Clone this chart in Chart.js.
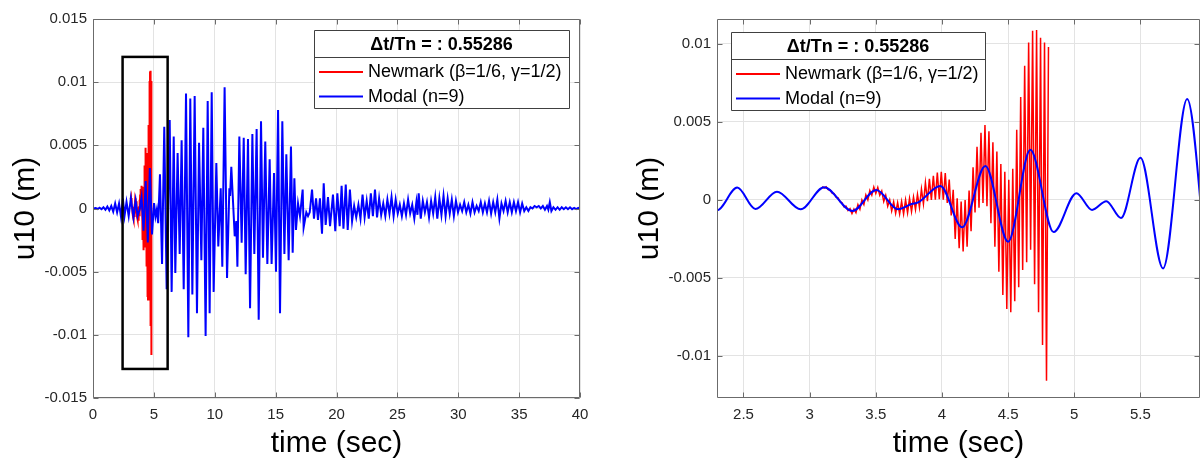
<!DOCTYPE html>
<html>
<head>
<meta charset="utf-8">
<title>u10 - Newmark vs Modal</title>
<script src="https://cdn.jsdelivr.net/npm/chart.js@4.4.1/dist/chart.umd.min.js"></script>
<style>
    html, body { margin: 0; padding: 0; background: #fff; }
    #wrap { position: relative; width: 1201px; height: 460px; overflow: hidden; }
    canvas { position: absolute; top: 0; }
    #fullChart { left: 0; }
    #zoomChart { left: 600px; }
</style>
</head>
<body>
<div id="wrap">
    <canvas id="fullChart" width="600" height="460"></canvas>
    <canvas id="zoomChart" width="601" height="460"></canvas>
</div>
<script>
// u10 (m) vs time (sec)
const legendTitle = 'Δt/Tn = : 0.55286'
const seriesLabels = ['Newmark (β=1/6, γ=1/2)', 'Modal (n=9)']

// Newmark (inestable), un valor por paso de tiempo
const newmarkTime = [
    3.095, 3.11, 3.125, 3.14, 3.155, 3.17, 3.185, 3.2, 3.215, 3.23,
    3.245, 3.26, 3.275, 3.29, 3.305, 3.32, 3.335, 3.35, 3.365, 3.38,
    3.395, 3.41, 3.425, 3.44, 3.455, 3.47, 3.485, 3.5, 3.515, 3.53,
    3.545, 3.56, 3.575, 3.59, 3.605, 3.62, 3.635, 3.65, 3.665, 3.68,
    3.695, 3.71, 3.725, 3.74, 3.755, 3.77, 3.785, 3.8, 3.815, 3.83,
    3.845, 3.86, 3.875, 3.89, 3.905, 3.92, 3.935, 3.95, 3.965, 3.98,
    3.995, 4.01, 4.025, 4.04, 4.055, 4.07, 4.085, 4.1, 4.115, 4.13,
    4.145, 4.16, 4.175, 4.19, 4.205, 4.22, 4.235, 4.25, 4.265, 4.28,
    4.295, 4.31, 4.325, 4.34, 4.355, 4.37, 4.385, 4.4, 4.415, 4.43,
    4.445, 4.46, 4.475, 4.49, 4.505, 4.52, 4.535, 4.55, 4.565, 4.58,
    4.595, 4.61, 4.625, 4.64, 4.655, 4.67, 4.685, 4.7, 4.715, 4.73,
    4.745, 4.76, 4.775, 4.79, 4.805
]
const newmarkDisp = [
    0.00085, 0.00076, 0.00084, 0.00066, 0.00064, 0.00044, 0.0004, 0.00018, 0.00013, -0.00012,
    -0.00018, -0.00044, -0.0004, -0.00068, -0.00056, -0.00088, -0.00058, -0.00082, -0.0003, -0.0006,
    0, -0.0003, 0.00032, 0, 0.0006, 0.0003, 0.00082, 0.00042, 0.0008, 0.0003,
    0.00058, -0.0001, 0.0003, -0.0004, 0, -0.0007, -0.00012, -0.00086, -0.00018, -0.0009,
    -0.0001, -0.0009, 0, -0.00082, 0.0001, -0.00074, 0.00018, -0.00062, 0.00036, -0.00048,
    0.0007, -0.00025, 0.0011, -0.00008, 0.00135, 0, 0.00155, 0.00002, 0.00175, 0.00004,
    0.0018, 0.00002, 0.00172, -0.0002, 0.0013, -0.001, 0.00065, -0.0025, 0.0001, -0.0031,
    -0.0001, -0.0033, 0, -0.003, 0.0006, -0.002, 0.0021, -0.0008, 0.0034, -0.0005,
    0.0043, -0.0002, 0.0048, -0.0004, 0.0044, -0.0015, 0.0037, -0.003, 0.0031, -0.0046,
    0.0023, -0.0061, 0.0018, -0.007, 0.0013, -0.0072, 0.002, -0.0065, 0.0045, -0.0056,
    0.0066, -0.0045, 0.0086, -0.004, 0.0101, -0.0032, 0.01085, -0.0054, 0.0109, -0.0072,
    0.0104, -0.0093, 0.0101, -0.0116, 0.0098
]

// Modal (n=9): picos y valles
const modalTime = [
    0, 0.22, 0.38, 0.54, 0.7, 0.86, 1.02, 1.18, 1.34, 1.5, 1.66, 1.82, 1.98, 2.14,
    2.3, 2.453, 2.59, 2.753, 2.932, 3.109, 3.323, 3.504, 3.668, 3.77, 3.82, 3.988,
    4.152, 4.328, 4.5, 4.668, 4.844, 5.016, 5.134, 5.242, 5.353, 5.5, 5.671, 5.853,
    6.05, 6.3, 6.46, 6.63, 6.76, 6.95, 7.12, 7.28, 7.45, 7.64, 7.83, 7.99,
    8.16, 8.35, 8.54, 8.71, 8.9, 9.06, 9.25, 9.42, 9.58, 9.75, 9.91, 10.13,
    10.29, 10.49, 10.62, 10.81, 11.01, 11.2, 11.26, 11.36, 11.64, 11.77, 11.86, 12.02,
    12.21, 12.38, 12.54, 12.73, 12.9, 13.09, 13.25, 13.44, 13.61, 13.8, 13.96, 14.15,
    14.32, 14.51, 14.67, 14.87, 15.03, 15.2, 15.36, 15.55, 15.72, 15.88, 16.07, 16.26,
    16.4, 16.54, 16.67, 16.84, 17, 17.22, 17.3, 17.52, 17.66, 17.8, 17.99, 18.15,
    18.32, 18.48, 18.64, 18.81, 18.95, 19.11, 19.3, 19.47, 19.71, 19.9, 20.07, 20.26,
    20.42, 20.57, 20.76, 20.92, 21.1, 21.28, 21.45, 21.62, 21.8, 21.97, 22.14, 22.31,
    22.48, 22.65, 22.82, 22.99, 23.16, 23.33, 23.5, 23.67, 23.84, 24.01, 24.18, 24.35,
    24.52, 24.69, 24.86, 25.03, 25.2, 25.37, 25.54, 25.71, 25.88, 26.05, 26.22, 26.39,
    26.56, 26.65, 26.75, 26.92, 27.09, 27.26, 27.43, 27.6, 27.77, 27.94, 28.11, 28.28,
    28.45, 28.62, 28.79, 28.96, 29.13, 29.3, 29.47, 29.64, 29.81, 29.98, 30.15, 30.32,
    30.49, 30.66, 30.83, 31, 31.17, 31.34, 31.51, 31.68, 31.85, 32.02, 32.19, 32.36,
    32.53, 32.7, 32.87, 33.04, 33.21, 33.38, 33.55, 33.72, 33.89, 34.06, 34.23, 34.4,
    34.57, 34.74, 34.91, 35.08, 35.25, 35.42, 35.59, 35.76, 35.93, 36.1, 36.27, 36.44,
    36.61, 36.78, 36.95, 37.12, 37.29, 37.4, 37.52, 37.65, 37.82, 37.99, 38.16, 38.33,
    38.5, 38.67, 38.84, 39.01, 39.18, 39.35, 39.52, 39.69, 39.86, 40
]
const modalDisp = [
    0, 0.00004, -0.00004, 0.00006, -0.00006, 0.0001, -0.0001, 0.00015, -0.00015, 0.0002, -0.00025, 0.0004, -0.0003, 0.0004,
    -0.00066, 0.00079, -0.00058, 0.00053, -0.0006, 0.00082, -0.00071, 0.00064, -0.0006, -0.00026, -0.00016, 0.0009,
    -0.00176, 0.00218, -0.00268, 0.00321, -0.00206, 0.00043, -0.00064, -0.00008, -0.00116, 0.0027, -0.00439, 0.00647,
    -0.0064, 0.007, -0.0066, 0.0057, -0.0051, 0.0044, -0.0036, 0.0054, -0.0064, 0.0091, -0.0102, 0.0087,
    -0.0068, 0.0089, -0.0083, 0.0052, -0.0041, 0.0064, -0.0101, 0.0085, -0.0083, 0.0092, -0.0066, 0.0036,
    -0.003, 0.0016, -0.0046, 0.0096, -0.0055, 0.0016, 0.001, 0.0033, -0.0022, -0.001, -0.0046, 0.0057,
    -0.0027, 0.0056, -0.0052, 0.0055, -0.0079, 0.0059, -0.0036, 0.0063, -0.0088, 0.0069, -0.0039, 0.0053,
    -0.0044, 0.0039, -0.0044, 0.0028, -0.005, 0.0078, -0.0083, 0.0069, -0.0036, 0.0043, -0.0041, 0.0049,
    -0.0035, 0.0024, -0.0017, 0.0004, -0.0006, 0.0015, -0.0015, -0.0003, -0.0006, -0.0003, 0.0015, -0.0008,
    0.0008, -0.0009, 0.0008, -0.002, 0.002, -0.0013, 0.0009, -0.0014, 0.0011, -0.0018, 0.0012, -0.0014,
    0.0018, -0.0016, 0.0019, -0.0017, 0.0015, -0.001, 0.0002, -0.0007, 0.0003, -0.0008, 0.0011, -0.0007,
    0.0006, -0.0008, 0.0012, -0.0006, 0.0015, -0.0007, 0.0008, -0.0005, 0.0004, -0.0006, 0.0007, -0.0004,
    0.0009, -0.0006, 0.0007, -0.0004, 0.0003, -0.0006, 0.0004, -0.0005, 0.0007, -0.0004, 0.0003, -0.0008,
    0.0005, -0.0005, 0.0012, -0.0008, 0.0006, -0.0003, 0.0005, -0.0007, 0.0006, -0.0004, 0.0009, -0.0008,
    0.0008, -0.0005, 0.001, -0.0006, 0.0008, -0.0004, 0.0007, -0.0006, 0.0006, -0.0003, 0.0003, -0.0002,
    0.0005, -0.0003, 0.0003, -0.0004, 0.0005, -0.0003, 0.0002, -0.0002, 0.0005, -0.0003, 0.0004, -0.0003,
    0.0006, -0.0004, 0.0005, -0.0003, 0.0007, -0.0008, 0.0004, -0.0002, 0.0006, -0.0003, 0.0005, -0.0003,
    0.0005, -0.0002, 0.0005, -0.0003, 0.0004, -0.0002, 0.0001, -0.0002, 0.0001, 0, 0.0002, 0.0001,
    0.0002, 0, 0.0002, -0.0001, 0.0002, -0.0001, 0.0005, -0.0002, 0.0001, -0.0001, 0.0001, -0.0001,
    0.0001, -0.00005, 0.0001, -0.00005, 0.0001, -0.00005, 0.00005, -0.00005, 0.00005, 0
]

// ejes
const fullXTicks = [0, 5, 10, 15, 20, 25, 30, 35, 40]
const fullYTicks = [-0.015, -0.01, -0.005, 0, 0.005, 0.01, 0.015]
const zoomXTicks = [2.5, 3, 3.5, 4, 4.5, 5, 5.5]
const zoomYTicks = [-0.01, -0.005, 0, 0.005, 0.01]
const fullRange = { x: [0, 40], y: [-0.015, 0.015] }
const zoomRange = { x: [2.3, 5.95], y: [-0.0127, 0.0116] }
// recuadro de zoom dibujado en la figura completa [t0, t1, u0, u1]
const zoomWindow = [2.43, 6.13, -0.0127, 0.012]

;(function () {
    const fontStack = "'Liberation Sans', Arial, Helvetica, sans-serif"
    const inkColor = '#262626'
    const frameColor = '#6b6b6b'
    const gridColor = '#e3e3e3'

    Chart.defaults.font.family = fontStack

    const fmt = (v) => String(Number(Number(v).toFixed(4)))

    const toPoints = (xs, ys) => xs.map((t, i) => ({ x: t, y: ys[i] }))

    // marco estilo matlab: caja, ticks hacia dentro, titulos, leyenda
    const matlabFrame = {
        id: 'matlabFrame',
        afterDatasetsDraw(chart, args, opts) {
            const { ctx, chartArea: a } = chart
            const xs = chart.scales.x
            const ys = chart.scales.y
            ctx.save()

            if (opts.box) {
                const [t0, t1, u0, u1] = opts.box
                const px0 = xs.getPixelForValue(t0)
                const px1 = xs.getPixelForValue(t1)
                const py0 = ys.getPixelForValue(u1)
                const py1 = ys.getPixelForValue(u0)
                ctx.strokeStyle = '#000'
                ctx.lineWidth = 2.5
                ctx.strokeRect(px0, py0, px1 - px0, py1 - py0)
            }

            // caja
            const L = Math.round(a.left) + 0.5
            const R = Math.round(a.right) - 0.5
            const T = Math.round(a.top) + 0.5
            const B = Math.round(a.bottom) - 0.5
            ctx.strokeStyle = frameColor
            ctx.lineWidth = 1
            ctx.beginPath()
            ctx.rect(L, T, R - L, B - T)
            const tl = 5
            xs.ticks.forEach((tk) => {
                const px = Math.round(xs.getPixelForValue(tk.value)) + 0.5
                ctx.moveTo(px, B)
                ctx.lineTo(px, B - tl)
                ctx.moveTo(px, T)
                ctx.lineTo(px, T + tl)
            })
            ys.ticks.forEach((tk) => {
                const py = Math.round(ys.getPixelForValue(tk.value)) + 0.5
                ctx.moveTo(L, py)
                ctx.lineTo(L + tl, py)
                ctx.moveTo(R, py)
                ctx.lineTo(R - tl, py)
            })
            ctx.stroke()

            // titulos de ejes
            ctx.fillStyle = '#000'
            ctx.font = '30px ' + fontStack
            ctx.textAlign = 'center'
            ctx.textBaseline = 'alphabetic'
            ctx.fillText(opts.xTitle, (a.left + a.right) / 2, a.bottom + 54)
            ctx.save()
            ctx.translate(a.left - 67, (a.top + a.bottom) / 2)
            ctx.rotate(-Math.PI / 2)
            ctx.textBaseline = 'middle'
            ctx.fillText(opts.yTitle, 0, 0)
            ctx.restore()

            // leyenda
            const lg = opts.legend
            ctx.fillStyle = '#fff'
            ctx.fillRect(lg.x, lg.y, lg.w, lg.h)
            ctx.strokeStyle = '#404040'
            ctx.lineWidth = 1
            ctx.beginPath()
            ctx.rect(lg.x + 0.5, lg.y + 0.5, lg.w, lg.h)
            ctx.moveTo(lg.x + 0.5, lg.y + 27.5)
            ctx.lineTo(lg.x + lg.w + 0.5, lg.y + 27.5)
            ctx.stroke()

            ctx.fillStyle = '#000'
            ctx.font = 'bold 18px ' + fontStack
            ctx.textAlign = 'center'
            ctx.textBaseline = 'middle'
            ctx.fillText(legendTitle, lg.x + lg.w / 2, lg.y + 15.5)

            ctx.font = '18px ' + fontStack
            ctx.textAlign = 'left'
            chart.data.datasets.forEach((ds, i) => {
                const ry = lg.y + 42 + i * 24.5
                ctx.strokeStyle = ds.borderColor
                ctx.lineWidth = 2
                ctx.beginPath()
                ctx.moveTo(lg.x + 5, ry)
                ctx.lineTo(lg.x + 49, ry)
                ctx.stroke()
                ctx.fillStyle = '#000'
                ctx.fillText(ds.label, lg.x + 54, ry + 0.5)
            })

            ctx.restore()
        }
    }

    function makeChart(el, cfg) {
        return new Chart(el, {
            type: 'line',
            data: {
                datasets: [
                    {
                        label: seriesLabels[0],
                        data: toPoints(newmarkTime, newmarkDisp),
                        borderColor: '#ff0000',
                        borderWidth: cfg.redWidth,
                        pointRadius: 0,
                        tension: 0,
                        order: 1
                    },
                    {
                        label: seriesLabels[1],
                        data: toPoints(modalTime, modalDisp),
                        borderColor: '#0000ff',
                        borderWidth: 2,
                        pointRadius: 0,
                        tension: 0,
                        cubicInterpolationMode: cfg.smooth ? 'monotone' : 'default',
                        order: 0
                    }
                ]
            },
            options: {
                responsive: false,
                animation: false,
                events: [],
                layout: {
                    padding: { top: 19, right: cfg.padRight, bottom: 0, left: 0 }
                },
                plugins: {
                    legend: { display: false },
                    tooltip: { enabled: false },
                    matlabFrame: {
                        box: cfg.box,
                        legend: cfg.legend,
                        xTitle: 'time (sec)',
                        yTitle: 'u10 (m)'
                    }
                },
                scales: {
                    x: {
                        type: 'linear',
                        min: cfg.range.x[0],
                        max: cfg.range.x[1],
                        afterBuildTicks: (s) => {
                            s.ticks = cfg.xTicks.map((v) => ({ value: v }))
                        },
                        afterFit: (s) => {
                            s.height = 62
                        },
                        grid: { color: gridColor, drawTicks: false },
                        border: { display: false },
                        ticks: {
                            callback: fmt,
                            color: inkColor,
                            font: { size: 15 },
                            padding: 8,
                            maxRotation: 0,
                            autoSkip: false
                        }
                    },
                    y: {
                        type: 'linear',
                        min: cfg.range.y[0],
                        max: cfg.range.y[1],
                        afterBuildTicks: (s) => {
                            s.ticks = cfg.yTicks.map((v) => ({ value: v }))
                        },
                        afterFit: (s) => {
                            s.width = cfg.axisLeft
                        },
                        grid: { color: gridColor, drawTicks: false },
                        border: { display: false },
                        ticks: {
                            callback: fmt,
                            color: inkColor,
                            font: { size: 15 },
                            padding: 6,
                            autoSkip: false
                        }
                    }
                }
            },
            plugins: [matlabFrame]
        })
    }

    makeChart(document.getElementById('fullChart'), {
        range: fullRange,
        xTicks: fullXTicks,
        yTicks: fullYTicks,
        axisLeft: 93,
        padRight: 20,
        redWidth: 2,
        smooth: false,
        box: zoomWindow,
        legend: { x: 314, y: 30, w: 255, h: 78 }
    })

    makeChart(document.getElementById('zoomChart'), {
        range: zoomRange,
        xTicks: zoomXTicks,
        yTicks: zoomYTicks,
        axisLeft: 117,
        padRight: 1,
        redWidth: 1.5,
        smooth: true,
        box: null,
        legend: { x: 131, y: 32, w: 254, h: 78 }
    })
})()
</script>
</body>
</html>
